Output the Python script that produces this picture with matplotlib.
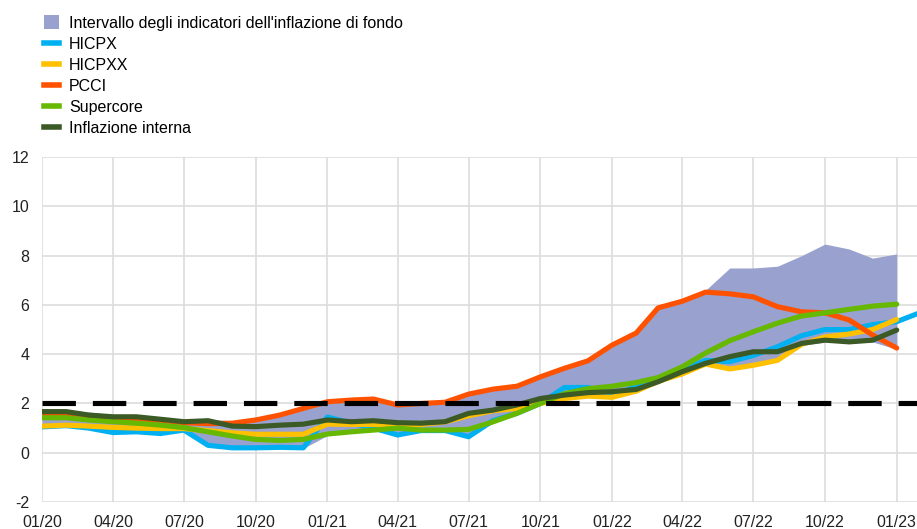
import numpy as np
import pandas as pd
import matplotlib
matplotlib.use('Agg')
import matplotlib.pyplot as plt
import matplotlib.dates as mdates
from matplotlib.patches import Patch
from matplotlib.lines import Line2D

plt.rcParams['font.family'] = ['Liberation Sans', 'DejaVu Sans']
plt.rcParams['axes.unicode_minus'] = False

# monthly data, 01/20 .. 01/23 (HICPX one month more)
months = pd.date_range('2020-01-01', periods=37, freq='MS')
months_hicpx = pd.date_range('2020-01-01', periods=38, freq='MS')

band_low = [1.0, 1.1, 1.0, 0.8, 0.85, 0.78, 0.85, 0.3, 0.2, 0.2, 0.2, 0.18,
            0.7, 0.8, 0.9, 0.72, 0.88, 0.88, 0.65, 1.2, 1.55, 1.95, 2.2, 2.3,
            2.2, 2.45, 2.85, 3.15, 3.55, 3.35, 3.5, 3.7, 4.35, 4.5, 4.45, 4.5, 4.2]
band_high = [1.75, 1.75, 1.65, 1.55, 1.5, 1.45, 1.35, 1.35, 1.3, 1.33, 1.53, 1.8,
             2.05, 2.1, 2.15, 1.95, 2.0, 2.05, 2.38, 2.55, 2.65, 3.05, 3.4, 3.7,
             4.3, 4.85, 5.85, 6.15, 6.6, 7.5, 7.5, 7.57, 8.0, 8.47, 8.27, 7.9, 8.07]

hicpx = [1.05, 1.1, 1.0, 0.82, 0.85, 0.78, 0.92, 0.3, 0.2, 0.2, 0.22, 0.2,
         1.45, 1.2, 1.0, 0.72, 0.9, 0.9, 0.65, 1.3, 1.6, 2.0, 2.65, 2.65,
         2.3, 2.7, 3.0, 3.35, 3.75, 3.7, 3.95, 4.3, 4.75, 5.0, 5.0, 5.2, 5.32, 5.7]
hicpxx = [1.08, 1.12, 1.08, 1.03, 1.0, 0.98, 0.98, 0.9, 0.81, 0.75, 0.75, 0.75,
          1.16, 1.15, 1.15, 1.1, 1.15, 1.25, 1.5, 1.7, 1.8, 2.0, 2.2, 2.3,
          2.25, 2.5, 2.9, 3.2, 3.6, 3.4, 3.55, 3.75, 4.4, 4.7, 4.82, 5.0, 5.41]
pcci = [1.6, 1.6, 1.5, 1.4, 1.38, 1.32, 1.22, 1.18, 1.2, 1.33, 1.53, 1.8,
        2.07, 2.14, 2.18, 1.94, 2.0, 2.05, 2.38, 2.58, 2.7, 3.08, 3.43, 3.73,
        4.37, 4.86, 5.88, 6.15, 6.52, 6.45, 6.33, 5.93, 5.72, 5.68, 5.39, 4.78, 4.25]
supercore = [1.42, 1.42, 1.33, 1.26, 1.2, 1.12, 1.02, 0.85, 0.68, 0.54, 0.5, 0.54,
             0.76, 0.85, 0.92, 1.0, 0.92, 0.92, 0.95, 1.25, 1.6, 2.0, 2.4, 2.6,
             2.7, 2.85, 3.05, 3.49, 4.05, 4.55, 4.91, 5.26, 5.55, 5.68, 5.82, 5.95, 6.03]
interna = [1.67, 1.67, 1.53, 1.46, 1.46, 1.36, 1.26, 1.3, 1.08, 1.06, 1.12, 1.16,
           1.33, 1.26, 1.3, 1.22, 1.2, 1.26, 1.6, 1.73, 1.94, 2.2, 2.34, 2.44,
           2.48, 2.57, 2.88, 3.29, 3.63, 3.9, 4.1, 4.1, 4.44, 4.57, 4.5, 4.57, 4.98]

target = 2.0

c_band = '#99a1cf'
c_hicpx = '#00b0f0'
c_hicpxx = '#ffc000'
c_pcci = '#ff5200'
c_super = '#66b800'
c_int = '#3b5a26'

fig = plt.figure(figsize=(9.17, 5.29), dpi=100)
ax = fig.add_axes([0.0458, 0.051, 0.9542, 0.652])

ax.fill_between(months, band_low, band_high, color=c_band, lw=0, zorder=2)
lw = 3.7
kw = dict(lw=lw, solid_capstyle='round', solid_joinstyle='round')
ax.plot(months_hicpx, hicpx, color=c_hicpx, zorder=3, **kw)
ax.plot(months, hicpxx, color=c_hicpxx, zorder=3, **kw)
ax.plot(months, pcci, color=c_pcci, zorder=3, **kw)
ax.plot(months, supercore, color=c_super, zorder=3, **kw)
ax.plot(months, interna, color=c_int, zorder=3, **kw)
ax.axhline(target, color='black', lw=3.7, dashes=(6.5, 3.3), zorder=4)

ax.set_ylim(-2, 12)
ax.set_yticks(np.arange(-2, 13, 2))
ax.set_xlim(months[0], months[-1] + pd.Timedelta(days=26))
ax.xaxis.set_major_locator(mdates.MonthLocator(bymonth=[1, 4, 7, 10]))
ax.xaxis.set_major_formatter(mdates.DateFormatter('%m/%y'))

ax.grid(True, color='#dddddd', lw=1.2, zorder=0)
ax.set_axisbelow(True)
for s in ax.spines.values():
    s.set_visible(False)
ax.tick_params(length=0, labelsize=11.5, colors='#222222')
ax.tick_params(axis='y', pad=9)
ax.tick_params(axis='x', pad=9)

handles = [
    Patch(facecolor=c_band, edgecolor='none'),
    Line2D([], [], color=c_hicpx, lw=4),
    Line2D([], [], color=c_hicpxx, lw=4),
    Line2D([], [], color=c_pcci, lw=4),
    Line2D([], [], color=c_super, lw=4),
    Line2D([], [], color=c_int, lw=4),
]
labels = ["Intervallo degli indicatori dell'inflazione di fondo", 'HICPX', 'HICPXX',
          'PCCI', 'Supercore', 'Inflazione interna']
fig.legend(handles, labels, loc='upper left', bbox_to_anchor=(0.041, 0.983),
           frameon=False, fontsize=11.5, handlelength=0.95, handleheight=0.9,
           handletextpad=0.62, labelspacing=0.375, borderaxespad=0)

fig.savefig('out.png', dpi=100)
